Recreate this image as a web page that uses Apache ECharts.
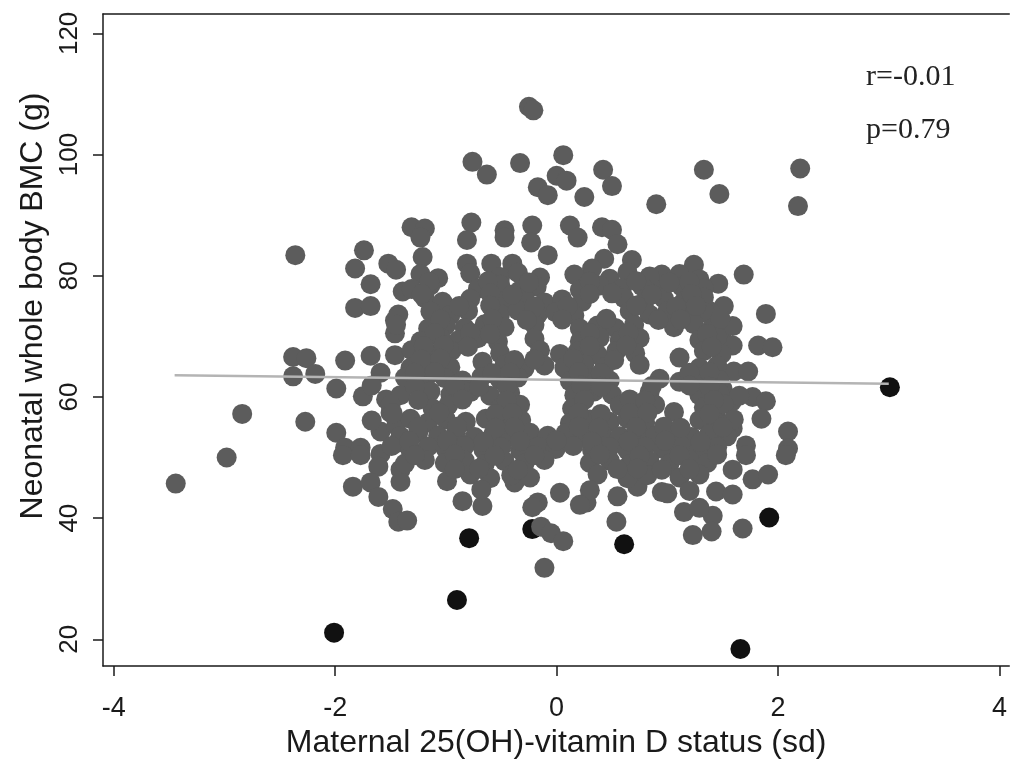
<!DOCTYPE html>
<html>
<head>
<meta charset="utf-8">
<script src="https://cdn.jsdelivr.net/npm/echarts@6/dist/echarts.min.js"></script>
<style>
  html, body { margin: 0; padding: 0; background: #fff; }
  #chart { width: 1010px; height: 764px; }
</style>
</head>
<body>
<div id="chart"></div>
<script>
// Tick values
const xTicks = [-4, -2, 0, 2, 4];
const yTicks = [20, 40, 60, 80, 100, 120];

// Axis titles and annotation
const xTitle = "Maternal 25(OH)-vitamin D status (sd)";
const yTitle = "Neonatal whole body BMC (g)";
const statLines = ["r=-0.01", "p=0.79"];

// Regression line end points
const fitX = [-3.45, 3.0];
const fitY = [63.6, 62.2];

// Outlying (black) points
const blackPoints = [
  [3.01, 61.6], [-2.01, 21.1], [-0.79, 36.7], [-0.90, 26.5],
  [0.61, 35.7], [-0.22, 38.2], [1.92, 40.1], [1.66, 18.4]
];

// Points outside the main cloud
const outerPoints = [
  [-0.25, 107.9], [-0.21, 107.3], [-0.76, 98.8], [-0.63, 96.7], [-0.33, 98.6], [0.06, 99.9],
  [0.0, 96.5], [0.09, 95.7], [-0.17, 94.6], [-0.08, 93.3], [0.25, 93.0], [0.42, 97.5],
  [0.50, 94.8], [0.90, 91.8], [1.33, 97.5], [1.47, 93.5], [2.20, 97.7], [2.18, 91.5],
  [-1.31, 88.0], [-1.19, 87.8], [-0.77, 88.8], [-0.47, 87.5], [-0.22, 88.3], [0.12, 88.3],
  [0.41, 88.0], [0.50, 87.6],
  [-2.36, 83.4], [-1.74, 84.2], [-1.82, 81.2], [-1.52, 82.0], [-1.45, 81.0], [-1.68, 78.6],
  [-1.82, 74.7], [-1.68, 75.0], [-1.39, 77.4], [-1.46, 72.6], [-1.46, 70.5], [-1.46, 66.9],
  [-2.38, 66.6], [-2.26, 66.4], [-2.38, 63.4], [-2.18, 63.8], [-1.91, 66.0], [-1.68, 66.8],
  [-1.99, 61.4], [-1.75, 60.1], [-1.59, 64.0], [-1.54, 59.6], [-2.84, 57.2], [-2.27, 55.9],
  [-1.99, 54.1], [-1.91, 51.6], [-1.77, 51.6], [-1.59, 54.3], [-1.45, 55.3], [-2.98, 50.0],
  [-3.44, 45.7], [-1.93, 50.4], [-1.77, 50.4], [-1.59, 50.6], [-1.61, 48.5], [-1.84, 45.2],
  [-1.68, 45.9], [-1.61, 43.5], [-1.48, 41.5], [-1.43, 39.4], [-1.41, 48.0], [-1.41, 46.0],
  [-1.67, 61.9], [-1.50, 57.4], [-1.43, 52.5], [-1.67, 56.1],
  [1.69, 80.2], [1.46, 78.7], [1.51, 75.0], [1.38, 74.2], [1.89, 73.7], [1.49, 70.5],
  [1.59, 68.5], [1.82, 68.5], [1.95, 68.2], [1.60, 64.2], [1.73, 64.2], [1.41, 64.0],
  [1.50, 61.3], [1.77, 60.0], [1.89, 59.3], [1.85, 56.4], [2.09, 54.3], [2.09, 51.5],
  [1.58, 59.2], [1.44, 56.6], [1.59, 54.8], [1.71, 52.0], [1.71, 50.4], [2.07, 50.4],
  [1.59, 48.0], [1.77, 46.4], [1.91, 47.2], [1.44, 44.4], [1.59, 43.9], [1.41, 40.4],
  [1.40, 37.8], [1.68, 38.3], [1.23, 37.2],
  [-0.99, 46.1], [-0.85, 42.8], [-0.67, 42.0], [-1.35, 39.6], [-0.17, 42.6], [-0.14, 38.6],
  [-0.05, 37.5], [0.06, 36.2], [-0.11, 31.8], [0.54, 39.4], [-0.38, 45.9], [0.27, 42.6],
  [0.55, 43.6], [0.73, 45.2], [0.95, 44.3], [1.15, 41.0],
  [-1.23, 86.3], [-1.21, 83.1], [-0.81, 85.9], [-0.81, 82.0], [-0.59, 82.0], [-0.40, 82.0],
  [-0.47, 86.3], [-0.23, 85.5], [-0.08, 83.4], [0.19, 86.3], [0.55, 85.2], [0.68, 82.6],
  [0.43, 82.8], [0.32, 81.2], [1.24, 81.8], [0.95, 80.2]
];

// Dense central cloud
const cloudPoints = [
  [-1.23, 80.3], [-1.07, 79.6], [-0.78, 80.4], [-0.51, 79.8], [-0.35, 80.5], [-0.15, 79.7],
  [0.16, 80.2], [0.48, 79.5], [0.64, 80.6], [0.84, 79.9], [1.11, 80.3], [1.29, 79.4],
  [-1.31, 77.8], [-1.14, 78.4], [-0.71, 77.9], [-0.51, 78.5], [-0.33, 77.6], [-0.18, 78.2],
  [0.21, 77.7], [0.39, 78.4], [0.59, 77.9], [0.77, 78.3], [0.95, 77.6], [1.13, 78.2], [1.33, 77.9],
  [-1.19, 76.3], [-1.03, 75.7], [-0.78, 76.2], [-0.47, 75.8], [-0.29, 76.4], [-0.11, 75.6],
  [0.05, 76.1], [0.23, 75.7], [0.61, 76.3], [0.79, 75.6], [0.97, 76.2], [1.15, 75.8], [1.33, 76.4],
  [-1.43, 73.6], [-1.14, 74.1], [-0.96, 73.5], [-0.80, 74.2], [-0.51, 73.7], [-0.35, 74.3],
  [-0.17, 73.6], [-0.01, 74.0], [0.16, 73.5], [0.66, 74.2], [0.84, 73.6], [1.00, 74.1],
  [1.18, 73.4], [1.34, 73.9],
  [-1.45, 71.9], [-1.16, 71.3], [-1.00, 71.8], [-0.83, 71.4], [-0.65, 72.0], [-0.47, 71.5],
  [-0.20, 71.9], [0.21, 71.3], [0.37, 71.8], [0.53, 71.4], [0.70, 71.9], [1.06, 71.5],
  [1.24, 72.0], [1.40, 71.3], [1.59, 71.7],
  [-1.23, 69.2], [-1.05, 69.8], [-0.89, 69.3], [-0.71, 69.7], [-0.53, 69.1], [-0.20, 69.6],
  [0.21, 69.2], [0.39, 69.8], [0.57, 69.3], [0.75, 69.7], [1.29, 69.4], [1.45, 69.9],
  [-1.31, 67.7], [-1.13, 67.1], [-0.95, 67.6], [-0.51, 67.2], [-0.15, 67.7], [0.03, 67.1],
  [0.19, 67.5], [0.37, 67.0], [0.54, 67.6], [0.71, 67.2], [1.11, 66.5], [1.33, 67.6],
  [1.49, 67.1], [-0.67, 65.8],
  [-1.32, 64.8], [-1.14, 65.4], [-0.96, 64.9], [-0.47, 65.3], [-0.29, 64.7], [-0.11, 65.2],
  [0.07, 64.8], [0.25, 65.4], [0.43, 64.9], [0.75, 65.3], [1.29, 64.8], [1.45, 65.2],
  [-1.37, 63.2], [-1.19, 62.6], [-1.01, 63.1], [-0.85, 62.7], [-0.68, 63.3], [-0.51, 62.8],
  [-0.35, 63.2], [0.12, 62.6], [0.30, 63.1], [0.48, 62.7], [0.93, 63.0], [1.11, 62.5],
  [1.29, 63.2], [1.47, 62.8],
  [-1.41, 60.3], [-1.14, 60.9], [-0.96, 60.4], [-0.78, 60.8], [-0.60, 60.2], [-0.42, 60.7],
  [0.16, 60.3], [0.34, 60.9], [0.50, 60.4], [0.84, 60.8], [1.29, 60.3], [1.47, 60.7], [1.65, 60.2],
  [-1.50, 58.7], [-1.12, 58.1], [-0.98, 58.6], [-0.51, 58.2], [-0.33, 58.7], [0.14, 58.1],
  [0.57, 58.6], [0.75, 58.2], [0.89, 58.7], [1.06, 57.5], [1.33, 58.3], [1.51, 58.8],
  [-1.32, 56.4], [-1.16, 55.8], [-1.00, 56.3], [-0.82, 55.9], [-0.64, 56.4], [-0.47, 55.8],
  [-0.32, 56.2], [0.12, 55.7], [0.30, 56.3], [0.48, 55.9], [0.64, 56.4], [0.80, 55.8],
  [1.29, 56.2], [1.45, 55.7], [1.60, 56.3],
  [-1.41, 53.5], [-1.25, 54.1], [-1.07, 53.6], [-0.91, 54.0], [-0.74, 53.4], [-0.57, 53.9],
  [-0.41, 53.5], [-0.24, 54.1], [-0.08, 53.6], [0.08, 54.0], [0.24, 53.4], [0.41, 53.9],
  [0.57, 53.5], [0.73, 54.1], [0.89, 53.6], [1.05, 54.0], [1.22, 53.4], [1.38, 53.9], [1.54, 53.5],
  [-1.49, 51.9], [-1.32, 51.3], [-1.16, 51.8], [-1.00, 51.4], [-0.83, 51.9], [-0.66, 51.3],
  [-0.50, 51.7], [-0.33, 51.2], [-0.17, 51.8], [-0.01, 51.4], [0.15, 51.9], [0.32, 51.3],
  [0.48, 51.7], [0.64, 51.2], [0.80, 51.8], [0.96, 51.4], [1.13, 51.9], [1.29, 51.3], [1.45, 51.7],
  [-1.37, 49.0], [-1.19, 49.6], [-1.01, 49.1], [-0.83, 49.5], [-0.65, 48.9], [-0.47, 49.4],
  [-0.29, 49.0], [-0.11, 49.6], [0.30, 49.1], [0.48, 49.5], [0.66, 48.9], [0.84, 49.4],
  [1.02, 49.0], [1.20, 49.6], [1.36, 49.1],
  [-0.78, 47.2], [-0.60, 46.6], [-0.41, 47.1], [-0.24, 46.7],
  [0.37, 47.2], [0.64, 46.6], [0.82, 47.1], [1.11, 46.7], [1.29, 47.2],
  [-0.68, 44.7], [0.03, 44.2], [0.30, 44.6], [1.00, 44.1], [1.20, 44.5],
  [-0.22, 41.8], [0.21, 42.2], [1.29, 41.7]
];

// Extra points lying between the rows of the cloud
const fillPoints = [
  [-1.15, 79.0], [-0.62, 79.1], [-0.25, 78.9], [0.30, 79.0], [0.72, 79.1], [1.02, 78.9], [1.20, 79.0],
  [-1.22, 77.0], [-0.60, 77.1], [-0.40, 76.9], [0.30, 77.0], [0.50, 77.1], [0.86, 76.9], [1.22, 77.0],
  [-0.88, 75.0], [-0.60, 75.1], [-0.20, 74.9], [0.10, 75.0], [0.72, 75.1], [1.08, 74.9], [1.26, 75.0],
  [-1.05, 72.8], [-0.58, 72.9], [-0.27, 72.7], [0.05, 72.8], [0.45, 72.9], [0.92, 72.7], [1.12, 72.8], [1.48, 72.9],
  [-1.10, 70.5], [-0.78, 70.6], [-0.60, 70.4], [0.30, 70.5], [0.65, 70.6], [1.36, 70.4],
  [-1.20, 68.4], [-1.02, 68.5], [-0.80, 68.3], [0.30, 68.4], [0.63, 68.5], [1.40, 68.3],
  [-1.22, 66.2], [-1.05, 66.3], [-0.38, 66.1], [-0.20, 66.2], [0.15, 66.3], [0.52, 66.1],
  [-1.28, 64.0], [-1.10, 64.1], [-0.58, 63.9], [-0.42, 64.0], [0.20, 64.1], [0.40, 63.9], [1.20, 64.0], [1.38, 64.1],
  [-1.28, 61.8], [-0.92, 61.9], [-0.70, 61.7], [-0.45, 61.8], [0.22, 61.9], [0.40, 61.7], [0.86, 61.8], [1.20, 61.9], [1.38, 61.7],
  [-1.25, 59.5], [-0.85, 59.6], [-0.45, 59.4], [0.25, 59.5], [0.66, 59.6], [0.80, 59.4], [1.42, 59.5],
  [-1.48, 57.3], [-1.06, 57.4], [-0.55, 57.2], [-0.40, 57.3], [0.20, 57.4], [0.40, 57.2], [0.66, 57.3], [0.82, 57.4], [1.38, 57.2],
  [-1.25, 55.0], [-0.90, 55.1], [-0.55, 54.9], [-0.38, 55.0], [0.20, 55.1], [0.38, 54.9], [0.72, 55.0], [0.97, 55.1], [1.12, 54.9], [1.50, 55.0],
  [-1.33, 52.7], [-0.99, 52.8], [-0.66, 52.6], [-0.33, 52.7], [0.00, 52.8], [0.32, 52.6], [0.65, 52.7], [0.98, 52.8], [1.30, 52.6],
  [-1.28, 50.4], [-0.92, 50.5], [-0.56, 50.3], [-0.20, 50.4], [0.39, 50.5], [0.75, 50.3], [1.11, 50.4], [1.45, 50.5],
  [-0.92, 48.1], [-0.70, 48.2], [-0.35, 48.0], [0.55, 48.1], [0.73, 48.2], [0.95, 48.0], [1.20, 48.1]
];

const axisColor = "#1a1a1a";
const greyDot = "#5c5c5c";
const sansFont = "'Liberation Sans', Arial, sans-serif";

const chart = echarts.init(document.getElementById("chart"));

const option = {
  animation: false,
  backgroundColor: "#ffffff",
  grid: { left: 103, right: 0, top: 14, bottom: 86 },
  xAxis: [
    {
      type: "value",
      min: -4.097,
      max: 4.088,
      name: xTitle,
      nameLocation: "middle",
      nameGap: 61,
      nameTextStyle: { fontSize: 32, color: axisColor, fontFamily: sansFont },
      axisLine: { onZero: false, lineStyle: { color: axisColor, width: 1.5 } },
      axisTick: { customValues: xTicks, length: 10, lineStyle: { color: axisColor, width: 1.5 } },
      axisLabel: { customValues: xTicks, fontSize: 27, color: axisColor, fontFamily: sansFont, margin: 29 },
      splitLine: { show: false },
    },
    {
      // top frame line
      type: "value",
      position: "top",
      min: -4.097,
      max: 4.088,
      axisLine: { onZero: false, lineStyle: { color: axisColor, width: 1.5 } },
      axisTick: { show: false },
      axisLabel: { show: false },
      splitLine: { show: false },
    },
  ],
  yAxis: {
    type: "value",
    min: 15.6,
    max: 123.2,
    axisLine: { onZero: false, lineStyle: { color: axisColor, width: 1.5 } },
    axisTick: { customValues: yTicks, length: 10, lineStyle: { color: axisColor, width: 1.5 } },
    axisLabel: { customValues: yTicks, rotate: 90, fontSize: 26, color: axisColor, fontFamily: sansFont, margin: 20 },
    splitLine: { show: false },
  },
  graphic: [
    {
      type: "text",
      x: 33,
      y: 306,
      rotation: Math.PI / 2,
      style: {
        text: yTitle,
        font: "32px 'Liberation Sans', Arial, sans-serif",
        fill: axisColor,
        align: "center",
        verticalAlign: "middle",
      },
    },
    ...statLines.map((t, i) => ({
      type: "text",
      left: 866,
      top: 62 + i * 53,
      style: {
        text: t,
        font: "30px 'Liberation Serif', 'Times New Roman', serif",
        fill: "#222",
      },
    })),
  ],
  series: [
    {
      name: "outliers",
      type: "scatter",
      data: blackPoints,
      symbolSize: 20,
      itemStyle: { color: "#111111", opacity: 1 },
      z: 2,
    },
    {
      name: "outer",
      type: "scatter",
      data: outerPoints,
      symbolSize: 20,
      itemStyle: { color: greyDot, opacity: 1 },
      z: 3,
    },
    {
      name: "cloud",
      type: "scatter",
      data: cloudPoints.concat(fillPoints),
      symbolSize: 20,
      itemStyle: { color: greyDot, opacity: 1 },
      z: 3,
    },
    {
      name: "fit",
      type: "line",
      data: fitX.map((x, i) => [x, fitY[i]]),
      symbol: "none",
      lineStyle: { color: "#b4b4b4", width: 2.5 },
      z: 4,
    },
  ],
};

chart.setOption(option);
</script>
</body>
</html>
